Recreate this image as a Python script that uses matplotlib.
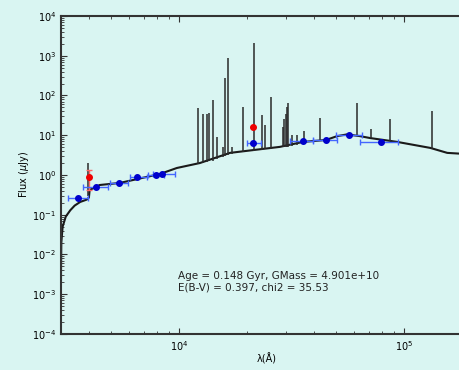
import matplotlib
matplotlib.use("Agg")
import matplotlib.pyplot as plt
import numpy as np

# model continuum (wavelength in Angstrom, flux in uJy)
model_wave = [2995, 3000, 3010, 3050, 3150, 3300, 3450, 3650, 3900, 3990,
              4020, 4457, 5470, 8240, 9800, 12400, 16870, 28100, 35600, 45000,
              50400, 55800, 63600, 70600, 93100, 130600, 155300, 200000]
model_flux = [1e-4, 0.004, 0.02, 0.05, 0.09, 0.13, 0.17, 0.21, 0.24, 0.27,
              0.42, 0.56, 0.63, 1.06, 1.5, 2.0, 3.6, 5.1, 6.8, 7.6,
              9.5, 10.5, 9.5, 8.5, 6.8, 4.8, 3.6, 3.3]

# emission lines in the model: wavelength, base flux, peak flux
line_wave = [3950, 12140, 12790, 13310, 13590, 14160, 14700, 15700, 16000, 16520,
             17300, 19240, 21540, 23380, 24100, 25650, 28960, 29400, 29800,
             30200, 30480, 31770, 33420, 35930, 42360, 61800, 71300, 86700, 133000]
line_base = [0.3, 1.9, 2.0, 2.1, 2.2, 2.3, 2.5, 2.9, 3.0, 3.2,
             3.4, 3.8, 4.1, 4.3, 4.4, 4.6, 5.0, 5.0, 5.0,
             5.0, 5.0, 5.3, 5.6, 6.5, 7.5, 9.5, 8.5, 7.0, 4.6]
line_peak = [2.0, 49, 34, 34, 36, 77, 9, 5, 275, 870,
             5, 51, 2100, 32, 18, 92, 16, 25, 35,
             50, 65, 10, 10, 12.6, 27, 63, 14, 25, 40]

# observed photometry with filter widths
phot_wave = [3556, 4276, 5412, 6508, 7906, 8400, 21300, 35600, 45000, 57000, 79000]
phot_lo = [3213, 3745, 4933, 6050, 7300, 7700, 20050, 31120, 39450, 49900, 63700]
phot_hi = [3947, 4830, 5929, 7210, 8600, 9600, 23130, 39450, 50400, 65000, 94000]
phot_flux = [0.26, 0.5, 0.63, 0.89, 1.0, 1.06, 6.4, 7.2, 7.6, 10.1, 6.8]

# points flagged in red
red_wave = [3981, 21300]
red_flux = [0.89, 16]
red_err_lo = [0.47, 0.0]
red_err_hi = [0.45, 0.0]

info = "Age = 0.148 Gyr, GMass = 4.901e+10\nE(B-V) = 0.397, chi2 = 35.53"

bg = '#d9f5f2'
fig = plt.figure(figsize=(4.6, 3.7), dpi=100, facecolor=bg)
ax = fig.add_axes([0.1326, 0.0973, 0.8935, 0.8595], facecolor=bg)

ax.plot(model_wave, model_flux, color='#1a1a1a', lw=1.5, zorder=2)
ax.vlines(line_wave, line_base, line_peak, color='#2a2a2a', lw=1.1, zorder=2)

xerr = [np.array(phot_wave) - np.array(phot_lo), np.array(phot_hi) - np.array(phot_wave)]
ax.errorbar(phot_wave, phot_flux, xerr=xerr, fmt='o', color='#0000cc', ms=4,
            ecolor='#4466ff', elinewidth=1.0, capsize=2, zorder=4)
ax.errorbar(red_wave, red_flux, yerr=[red_err_lo, red_err_hi], fmt='o', color='#ee0000',
            ms=4, ecolor='#ff6666', elinewidth=1.0, capsize=2, zorder=3)

ax.set_xscale('log')
ax.set_yscale('log')
ax.set_xlim(3000, 2e5)
ax.set_ylim(1e-4, 1e4)
ax.set_yticks([10.0 ** k for k in range(-4, 5)])

ax.tick_params(which='both', direction='in', top=True, right=True, labelsize=7,
               color='#333333')
ax.tick_params(which='major', length=4)
ax.tick_params(which='minor', length=2)
for s in ax.spines.values():
    s.set_linewidth(1.5)
    s.set_color('#333333')

ax.set_xlabel('λ(Å)', fontsize=7, labelpad=0)
ax.set_ylabel(r'Flux ($\mu$Jy)', fontsize=7, labelpad=1)

ax.text(0.285, 0.1635, info, transform=ax.transAxes, fontsize=7.5, va='center',
        ha='left', color='#222222')

fig.savefig('out.png', dpi=100, facecolor=bg)
